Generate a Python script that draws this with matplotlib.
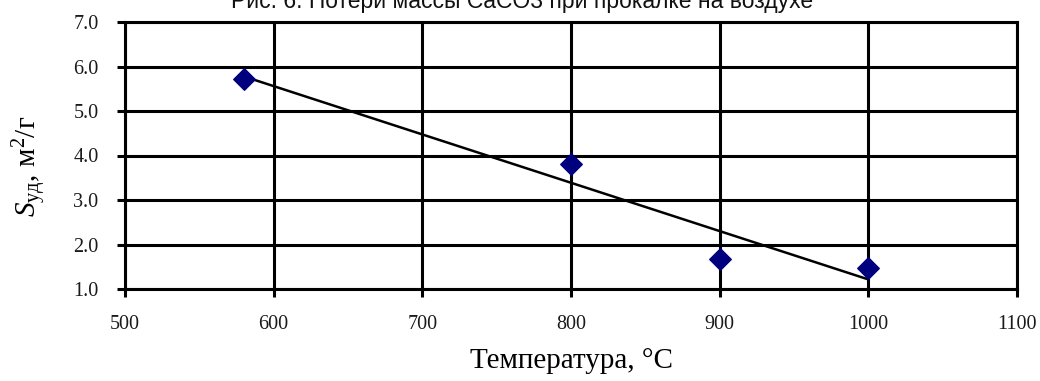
import numpy as np
import matplotlib
matplotlib.use("Agg")
import matplotlib.pyplot as plt

plt.rcParams["mathtext.fontset"] = "custom"
plt.rcParams["mathtext.rm"] = "Liberation Serif"
plt.rcParams["mathtext.it"] = "Liberation Serif:italic"

temps = [580, 800, 900, 1000]
s_ud = [5.73, 3.80, 1.67, 1.48]
x_ticks = [500, 600, 700, 800, 900, 1000, 1100]
y_ticks = [1.0, 2.0, 3.0, 4.0, 5.0, 6.0, 7.0]
title_text = "Рис. 6. Потери массы CaCO3 при прокалке на воздухе"
xlabel_text = "Температура, °C"

fig = plt.figure(figsize=(10.4, 3.81), dpi=100)
ax = fig.add_axes([125/1040, 1-289/381, (1017-125)/1040, (289-22)/381])

ax.set_xlim(500, 1100)
ax.set_ylim(1.0, 7.0)
ax.set_xticks(x_ticks)
ax.set_yticks(y_ticks)
ax.set_xticklabels([str(v) for v in x_ticks])
ax.set_yticklabels([f"{v:.1f}" for v in y_ticks])
ax.grid(True, color="black", linewidth=2.2)
ax.set_axisbelow(True)
for s in ax.spines.values():
    s.set_linewidth(2.2)
ax.tick_params(direction="out", length=6, width=2.2, pad=13)
for lab in ax.get_xticklabels() + ax.get_yticklabels():
    lab.set_fontfamily("Liberation Serif")
    lab.set_fontsize(14.5)
    lab.set_color("#1a1a1a")

# linear trend line
k, b = np.polyfit(temps, s_ud, 1)
xt = np.array([min(temps), max(temps)])
ax.plot(xt, k*xt + b, color="black", linewidth=1.8, zorder=3)
ax.scatter(temps, s_ud, marker="D", s=120, color="#00007f", zorder=4, clip_on=False)

ax.set_xlabel(xlabel_text, fontfamily="Liberation Serif", fontsize=21, labelpad=10)
ax.set_ylabel(r"$S_{\mathrm{уд}}$, м$^{2}$/г", fontfamily="Liberation Serif", fontsize=21)
ax.yaxis.set_label_coords(-0.085, 0.46)

fig.text(0.502, 1-8/381, title_text, ha="center", va="baseline",
         fontfamily="Liberation Sans", fontsize=16.5, color="#111111")

fig.savefig("out.png", dpi=100)
